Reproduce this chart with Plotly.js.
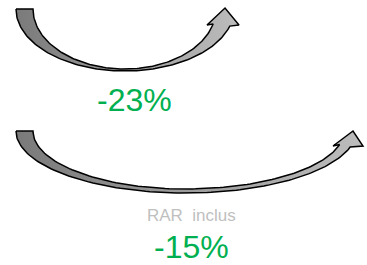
<!DOCTYPE html>
<html>
<head>
<meta charset="utf-8">
<script src="https://cdn.plot.ly/plotly-3.0.1.min.js"></script>
<style>html,body{margin:0;padding:0;background:#fff;}#chart{width:367px;height:265px;}</style>
</head>
<body>
<div id="chart"></div>
<script>
// Data
var changeLabels = ['-23%', '-15%'];
var noteLabels = ['', 'RAR  inclus'];

// Decorative curved-arrow geometry (pixel space of the 367x265 canvas)
var arrows = [
  {cx:125, cy:9,  outer:{rxL:109, rxR:109, ry:62, end:16}, inner:{rxL:92, rxR:91, ry:60, end:14.5},
   wingL:[207,25], tip:[225,8], wingR:[239,25], textX:134.5, textY:100, noteY:null},
  {cx:185, cy:131, outer:{rxL:169, rxR:171, ry:62, end:15}, inner:{rxL:152, rxR:159, ry:58, end:13.5},
   wingL:[333,146], tip:[353,131], wingR:[363,146], textX:191, textY:246.5, noteY:215}
];

function arc(cx, cy, rx, ry, a0, a1, n){
  var xs=[], ys=[];
  for (var i=0;i<=n;i++){
    var a=(a0+(a1-a0)*i/n)*Math.PI/180;
    xs.push(cx+rx*Math.cos(a)); ys.push(cy+ry*Math.sin(a));
  }
  return [xs, ys];
}

var traces=[];
var annotations=[];
arrows.forEach(function(ar, k){
  var X=[], Y=[];
  var p;
  p=arc(ar.cx, ar.cy, ar.outer.rxL, ar.outer.ry, 180, 90, 60); X=X.concat(p[0]); Y=Y.concat(p[1]);
  p=arc(ar.cx, ar.cy, ar.outer.rxR, ar.outer.ry, 90, ar.outer.end, 60); X=X.concat(p[0].slice(1)); Y=Y.concat(p[1].slice(1));
  X.push(ar.wingR[0], ar.tip[0], ar.wingL[0]); Y.push(ar.wingR[1], ar.tip[1], ar.wingL[1]);
  p=arc(ar.cx, ar.cy, ar.inner.rxR, ar.inner.ry, ar.inner.end, 90, 60); X=X.concat(p[0]); Y=Y.concat(p[1]);
  p=arc(ar.cx, ar.cy, ar.inner.rxL, ar.inner.ry, 90, 180, 60); X=X.concat(p[0].slice(1)); Y=Y.concat(p[1].slice(1));
  X.push(X[0]); Y.push(Y[0]);
  traces.push({
    x:X, y:Y, mode:'lines', fill:'toself', hoverinfo:'skip', showlegend:false,
    line:{color:'#000000', width:1.5},
    fillcolor:'#9a9a9a',
    fillgradient:{type:'horizontal', colorscale:[[0,'#7a7a7a'],[1,'#bdbdbd']]}
  });
  annotations.push({x: ar.textX, y: ar.textY, xref:'x', yref:'y', text: changeLabels[k],
    showarrow:false, xanchor:'center', yanchor:'middle',
    font:{family:'Liberation Sans, Arial, sans-serif', size:32, color:'#00b050'}});
  if (noteLabels[k]) {
    annotations.push({x:191, y: ar.noteY, xref:'x', yref:'y', text: noteLabels[k].replace(/  /g,' &nbsp;'),
      showarrow:false, xanchor:'center', yanchor:'middle',
      font:{family:'Liberation Sans, Arial, sans-serif', size:17, color:'#bfbfbf'}});
  }
});

var layout={
  width:367, height:265,
  margin:{l:0,r:0,t:0,b:0},
  paper_bgcolor:'#ffffff', plot_bgcolor:'#ffffff',
  xaxis:{range:[0,367], visible:false, fixedrange:true},
  yaxis:{range:[265,0], visible:false, fixedrange:true},
  annotations:annotations,
  showlegend:false
};
Plotly.newPlot('chart', traces, layout, {displayModeBar:false, staticPlot:true});
</script>
</body>
</html>
